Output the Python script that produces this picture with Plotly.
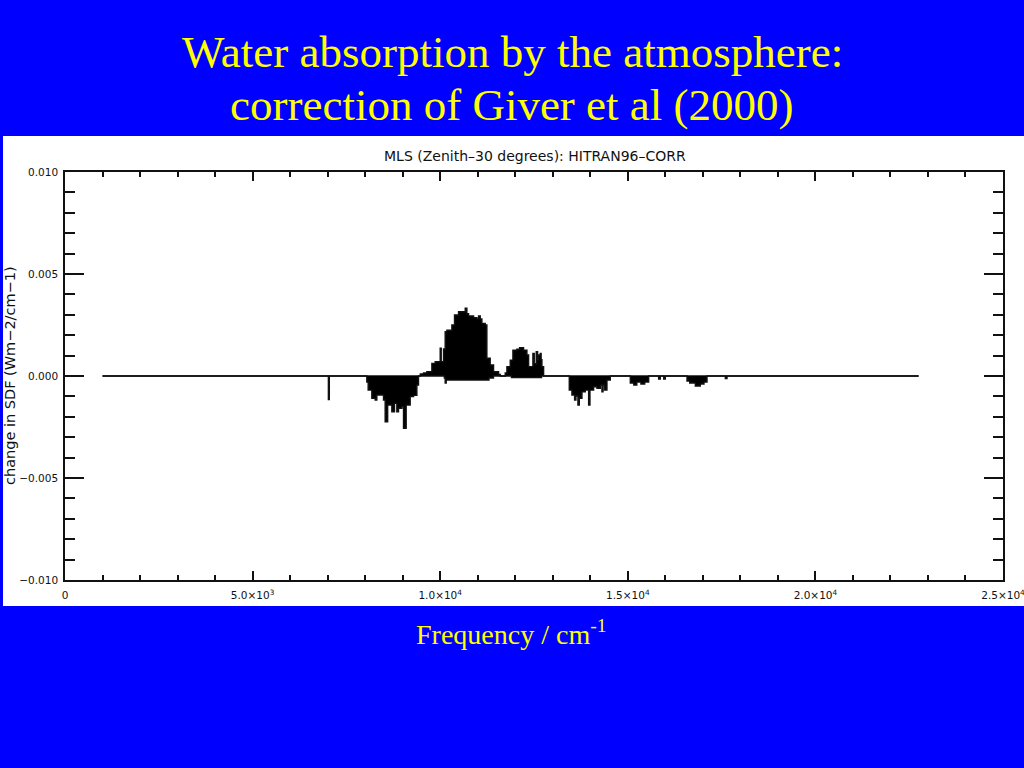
import plotly.graph_objects as go

# ---- data (frequency in cm-1, change in SDF) ----
# positive envelope (step-wise, value holds until next frequency)
pos_freq = [1000, 9470, 9556, 9644, 9778, 9867, 10000, 10027, 10089, 10133, 10178,
            10311, 10382, 10489, 10667, 10711, 10756, 10889, 10978, 11022, 11067,
            11111, 11200, 11244, 11333, 11422, 11556, 11600,
            11733, 11778, 11867, 11938, 12044, 12116, 12178, 12222, 12311, 12356,
            12471, 12507, 12560, 12596, 12622, 12667, 12690, 12711, 12756, 22750]
pos_val = [0.0, 0.00010, 0.00015, 0.00021, 0.00062, 0.00070, 0.00136, 0.00070, 0.00132, 0.00217, 0.00224,
           0.00250, 0.00299, 0.00315, 0.00332, 0.00305, 0.00294, 0.00286, 0.00280, 0.00294, 0.00280,
           0.00258, 0.00250, 0.00087, 0.00054, 0.00021, 0.00008, 0.0,
           0.00015, 0.00046, 0.00078, 0.00127, 0.00131, 0.00139, 0.00139, 0.00127, 0.00103, 0.00046,
           0.00111, 0.00060, 0.00119, 0.00080, 0.00103, 0.00111, 0.00080, 0.00046, 0.0, 0.0]

# negative envelope
neg_freq = [1000, 7020, 7045,
            8044, 8080, 8178, 8267, 8311, 8489, 8533, 8600, 8622, 8711, 8782, 8844,
            8889, 8978, 9022, 9093, 9200, 9289, 9378, 9422,
            10110, 10133, 10160, 10180, 11300, 11420,
            11900, 12700,
            13440, 13511, 13582, 13618, 13671, 13707, 13778, 13867, 13956, 13991,
            14089, 14178, 14267, 14311, 14340, 14382, 14444, 14533,
            15067, 15160, 15240, 15350, 15450, 15556,
            15822, 15867, 15956, 16000,
            16578, 16650, 16800, 16933, 17030, 17111,
            17600, 17644, 22750]
neg_val = [0.0, -0.00116, 0.0,
           -0.00030, -0.00069, -0.00109, -0.00118, -0.00093, -0.00118, -0.00224, -0.00142, -0.00142, -0.00175, -0.00134, -0.00175,
           -0.00158, -0.00150, -0.00256, -0.00142, -0.00101, -0.00095, -0.00044, 0.0,
           -0.00010, -0.00034, -0.00020, -0.00020, -0.00010, 0.0,
           -0.00008, 0.0,
           -0.00069, -0.00093, -0.00118, -0.00098, -0.00142, -0.00109, -0.00077, -0.00069, -0.00142, -0.00069,
           -0.00053, -0.00060, -0.00044, -0.00077, -0.00044, -0.00069, -0.00020, 0.0,
           -0.00034, -0.00044, -0.00030, -0.00039, -0.00030, 0.0,
           -0.00015, 0.0, -0.00015, 0.0,
           -0.00025, -0.00034, -0.00049, -0.00039, -0.00030, 0.0,
           -0.00012, 0.0, 0.0]

x_tickvals = [0, 5000, 10000, 15000, 20000, 25000]
x_ticktext = ["0", "5.0×10<sup>3</sup>", "1.0×10<sup>4</sup>", "1.5×10<sup>4</sup>",
              "2.0×10<sup>4</sup>", "2.5×10<sup>4</sup>"]
y_tickvals = [-0.010, -0.005, 0.0, 0.005, 0.010]
y_ticktext = ["−0.010", "−0.005", "0.000", "0.005", "0.010"]

# ---- layout geometry (pixels of the 1024x768 page) ----
W, H = 1024, 768
L, R, T, B = 65, 1003, 172, 580


def px(x):
    return (x - L) / (R - L)


def py(y):
    return (B - y) / (B - T)


INK = "#111111"
BLUE = "#0000FF"
YELLOW = "#FFFF00"

fig = go.Figure()
fig.add_trace(go.Scatter(x=pos_freq, y=pos_val, mode="lines", line=dict(color=INK, width=1.4, shape="hv"),
                         fill="tozeroy", fillcolor="#000000", hoverinfo="skip", showlegend=False))
fig.add_trace(go.Scatter(x=neg_freq, y=neg_val, mode="lines", line=dict(color=INK, width=1.4, shape="hv"),
                         fill="tozeroy", fillcolor="#000000", hoverinfo="skip", showlegend=False))

axis_font = dict(family="DejaVu Sans, Liberation Sans, sans-serif", size=10.5, color=INK)
serif = "Liberation Serif, Times New Roman, serif"
sans = "DejaVu Sans, Liberation Sans, sans-serif"

fig.update_layout(
    width=W, height=H,
    margin=dict(l=L, r=W - R, t=T, b=H - B, pad=0, autoexpand=False),
    paper_bgcolor=BLUE,
    plot_bgcolor="white",
    showlegend=False,
    xaxis=dict(range=[0, 25000], tickmode="array", tickvals=x_tickvals, ticktext=x_ticktext,
               showgrid=False, zeroline=False, showline=True, linecolor=INK, linewidth=1.5,
               mirror="allticks", ticks="inside", ticklen=9, tickwidth=1.5, tickcolor=INK,
               tickfont=axis_font, ticklabelstandoff=5, ticklabeloverflow="allow", automargin=False,
               minor=dict(ticks="inside", dtick=1000, ticklen=5, tickwidth=1.5, tickcolor=INK, showgrid=False)),
    yaxis=dict(range=[-0.010, 0.010], tickmode="array", tickvals=y_tickvals, ticktext=y_ticktext,
               showgrid=False, zeroline=False, showline=True, linecolor=INK, linewidth=1.5,
               mirror="allticks", ticks="inside", ticklen=19, tickwidth=1.5, tickcolor=INK,
               tickfont=axis_font, ticklabelstandoff=3, ticklabeloverflow="allow", automargin=False,
               minor=dict(ticks="inside", dtick=0.001, ticklen=10, tickwidth=1.5, tickcolor=INK, showgrid=False)),
    shapes=[dict(type="rect", xref="paper", yref="paper", x0=px(3), x1=px(1024), y0=py(606), y1=py(136),
                 fillcolor="white", line=dict(width=0), layer="below")],
    annotations=[
        dict(text="Water absorption by the atmosphere:", xref="paper", yref="paper", x=px(512), y=py(52),
             xanchor="center", yanchor="middle", showarrow=False,
             font=dict(family=serif, size=45, color=YELLOW)),
        dict(text="correction of Giver et al (2000)", xref="paper", yref="paper", x=px(512), y=py(105),
             xanchor="center", yanchor="middle", showarrow=False,
             font=dict(family=serif, size=45, color=YELLOW)),
        dict(text="Frequency / cm<sup>-1</sup>", xref="paper", yref="paper", x=px(511), y=py(632),
             xanchor="center", yanchor="middle", showarrow=False,
             font=dict(family=serif, size=28, color=YELLOW)),
        dict(text="MLS (Zenith–30 degrees): HITRAN96–CORR", xref="paper", yref="paper", x=px(535), y=py(156),
             xanchor="center", yanchor="middle", showarrow=False,
             font=dict(family=sans, size=14, color=INK)),
        dict(text="change in SDF (Wm−2/cm−1)", xref="paper", yref="paper", x=px(10), y=py(376),
             xanchor="center", yanchor="middle", showarrow=False, textangle=-90,
             font=dict(family=sans, size=14.5, color=INK)),
    ],
)

fig.write_html(
    "out.html",
    config={"displayModeBar": False},
    post_script="document.body.style.margin='0';document.body.style.overflow='hidden';"
                "document.body.style.background='#0000FF';",
)
